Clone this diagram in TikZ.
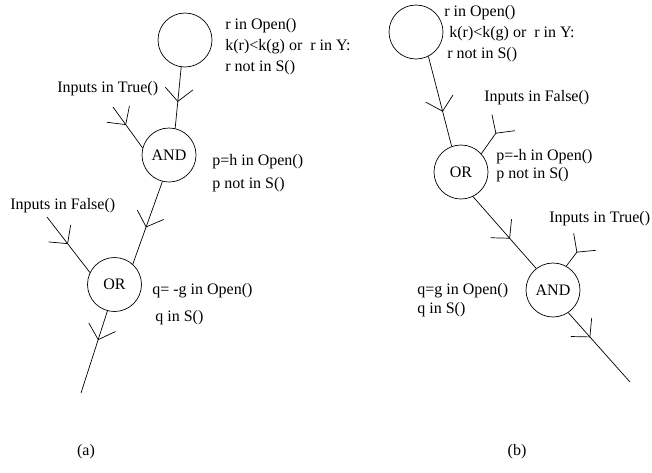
\documentclass[tikz,border=0pt]{standalone}
\usepackage{fontspec}
\setmainfont{Liberation Serif}
\usetikzlibrary{decorations.markings}

\tikzset{
  gate/.style={circle, draw, minimum size=54pt, inner sep=0pt},
  lbl/.style={anchor=west, inner sep=0pt},
  subcap/.style={inner sep=0pt},
  % open chevron placed along a connector, pointing the way it runs
  flow/.style={postaction={decorate, decoration={markings,
      mark=at position #1 with {\draw (-13pt,14pt) -- (0pt,0pt) -- (-13pt,-14pt);}}}},
}

\begin{document}
\begin{tikzpicture}[x=1pt, y=-1pt, line width=0.7pt,
    font=\fontsize{16}{19}\selectfont]
  \useasboundingbox (0,0) rectangle (652,472);

  % ---------- (a) ----------
  \node[gate] (ra)   at (185,40)      {};
  \node[gate] (anda) at (169,155)     {AND};
  \node[gate] (ora)  at (114.5,284.5) {OR};

  \coordinate (tina) at (113,107);
  \coordinate (fina) at (47,217);
  \coordinate (outa) at (81,393);

  \draw[flow=0.56] (ra.262)   -- (anda.77);
  \draw[flow=0.43] (tina)     -- (anda.165);
  \draw[flow=0.55] (anda.256) -- (ora.48);
  \draw[flow=0.48] (fina)     -- (ora.154);
  \draw[flow=0.35] (ora.255)  -- (outa);

  \node[lbl] (ra1) at (225,26) {r in Open()};
  \node[lbl] (ra2) at (225,47) {k(r)<k(g) or\ \ r in Y:};
  \node[lbl] (ra3) at (225,68) {r not in S()};
  \node[lbl] (ta)  at (57,89)  {Inputs in True()};
  \node[lbl] (pa1) at (212,162) {p=h in Open()};
  \node[lbl] (pa2) at (212,185) {p not in S()};
  \node[lbl] (fa)  at (10,206) {Inputs in False()};
  \node[lbl] (qa1) at (152,291) {q= -g in Open()};
  \node[lbl] (qa2) at (155,318) {q in S()};
  \node[subcap] (capa) at (86,452) {(a)};

  % ---------- (b) ----------
  \node[gate] (rb)   at (416,32)  {};
  \node[gate] (orb)  at (461,172) {OR};
  \node[gate] (andb) at (553,290) {AND};

  \coordinate (finb) at (496,133);
  \coordinate (tinb) at (577,252);
  \coordinate (outb) at (630,382);

  \draw[flow=0.61] (rb.297)   -- (orb.110);
  \draw[flow=0.01] (finb)     -- (orb.42);
  \draw[flow=0.58] (orb.296)  -- (andb.128);
  \draw[flow=0.01] (tinb)     -- (andb.61);
  \draw[flow=0.35] (andb.304) -- (outb);

  \node[lbl] (rb1) at (444,13) {r in Open()};
  \node[lbl] (rb2) at (449,34) {k(r)<k(g) or\ \ r in Y:};
  \node[lbl] (rb3) at (447,55) {r not in S()};
  \node[lbl] (fb)  at (484,98) {Inputs in False()};
  \node[lbl] (pb1) at (496,157) {p=-h in Open()};
  \node[lbl] (pb2) at (496,175) {p not in S()};
  \node[lbl] (tb)  at (549,219) {Inputs in True()};
  \node[lbl] (qb1) at (417,291) {q=g in Open()};
  \node[lbl] (qb2) at (417,310) {q in S()};
  \node[subcap] (capb) at (517,452) {(b)};
\end{tikzpicture}
\end{document}
